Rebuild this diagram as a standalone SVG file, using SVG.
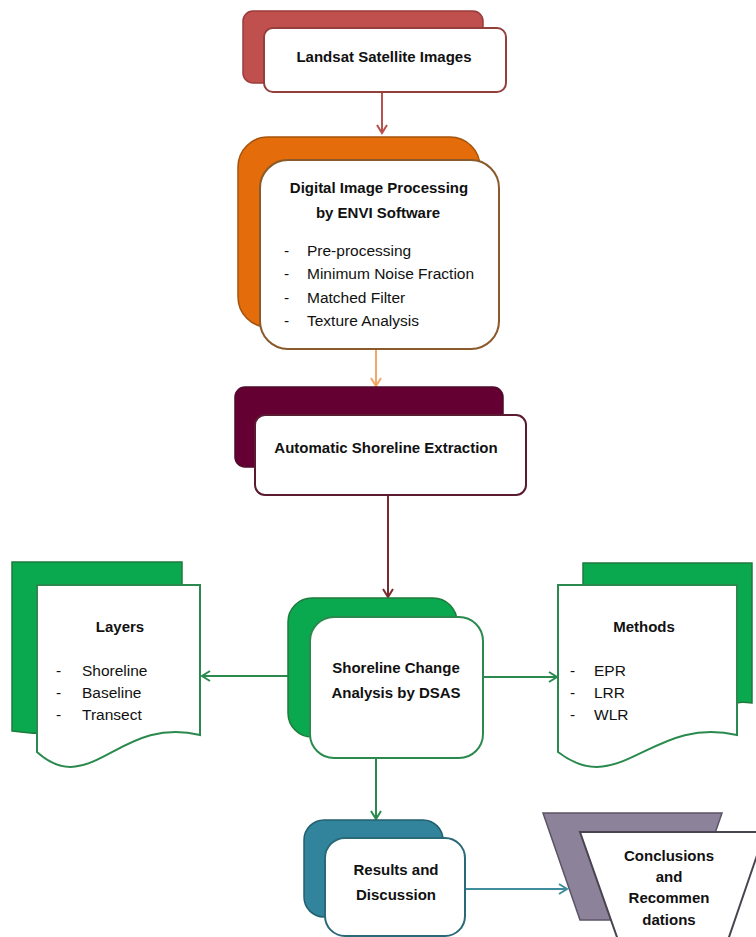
<svg xmlns="http://www.w3.org/2000/svg" width="756" height="937" viewBox="0 0 756 937">
<defs>
<style>
.t{font-family:"Liberation Sans",Arial,sans-serif;fill:#111;}
.b{font-weight:bold;font-size:15px;text-anchor:middle;}
.r{font-size:15.5px;}
.front{fill:#fff;stroke-width:2;}
.back{stroke-width:1.5;}
.ln{fill:none;stroke-width:2;}
</style>
<marker id="mRed" viewBox="0 0 12 12" refX="10" refY="6" markerWidth="12" markerHeight="12" markerUnits="userSpaceOnUse" orient="auto"><polyline points="2,1 10,6 2,11" fill="none" stroke="#b9504c" stroke-width="2"/></marker>
<marker id="mOr" viewBox="0 0 12 12" refX="10" refY="6" markerWidth="12" markerHeight="12" markerUnits="userSpaceOnUse" orient="auto"><polyline points="2,1 10,6 2,11" fill="none" stroke="#f2a766" stroke-width="2"/></marker>
<marker id="mMar" viewBox="0 0 12 12" refX="10" refY="6" markerWidth="12" markerHeight="12" markerUnits="userSpaceOnUse" orient="auto"><polyline points="2,1 10,6 2,11" fill="none" stroke="#7a2a2e" stroke-width="2"/></marker>
<marker id="mGr" viewBox="0 0 12 12" refX="10" refY="6" markerWidth="12" markerHeight="12" markerUnits="userSpaceOnUse" orient="auto"><polyline points="2,1 10,6 2,11" fill="none" stroke="#2a8a4e" stroke-width="2"/></marker>
<marker id="mTe" viewBox="0 0 12 12" refX="10" refY="6" markerWidth="12" markerHeight="12" markerUnits="userSpaceOnUse" orient="auto"><polyline points="2,1 10,6 2,11" fill="none" stroke="#3f8d9c" stroke-width="2"/></marker>
</defs>
<rect width="756" height="937" fill="#fff"/>

<g id="connectors">
<line class="ln" x1="382" y1="92" x2="382" y2="133" stroke="#b9504c" marker-end="url(#mRed)"/>
<line class="ln" x1="376" y1="349" x2="376" y2="386" stroke="#f2a766" marker-end="url(#mOr)"/>
<line class="ln" x1="388" y1="495" x2="388" y2="597" stroke="#7a2a2e" marker-end="url(#mMar)"/>
<line class="ln" x1="310" y1="676" x2="202" y2="676" stroke="#2a8a4e" marker-end="url(#mGr)"/>
<line class="ln" x1="483" y1="677" x2="557" y2="677" stroke="#2a8a4e" marker-end="url(#mGr)"/>
<line class="ln" x1="376" y1="758" x2="376" y2="819" stroke="#2a8a4e" marker-end="url(#mGr)"/>
<line class="ln" x1="465" y1="889" x2="567" y2="889" stroke="#3f8d9c" marker-end="url(#mTe)"/>
</g>

<g id="landsat">
<rect class="back" x="243" y="11" width="240" height="72" rx="10" fill="#c0504d" stroke="#9a3b39"/>
<rect class="front" x="264" y="28" width="242" height="64" rx="9" stroke="#93403d"/>
<text class="t b" x="384" y="62">Landsat  Satellite Images</text>
</g>

<g id="dip">
<rect class="back" x="238" y="137" width="242" height="190" rx="30" fill="#e46c0a" stroke="#a5530c"/>
<rect class="front" x="260" y="160" width="239" height="189" rx="28" stroke="#8a5a2a"/>
<text class="t b" x="379" y="193">Digital Image Processing</text>
<text class="t b" x="378" y="218">by ENVI Software</text>
<g class="t r">
<text x="284" y="256">-</text><text x="307" y="256">Pre-processing</text>
<text x="284" y="279">-</text><text x="307" y="279">Minimum Noise Fraction</text>
<text x="284" y="303">-</text><text x="307" y="303">Matched Filter</text>
<text x="284" y="326">-</text><text x="307" y="326">Texture Analysis</text>
</g>
</g>

<g id="ase">
<rect class="back" x="235" y="387" width="268" height="80" rx="10" fill="#640032" stroke="#4e0a28"/>
<rect class="front" x="255" y="415" width="271" height="80" rx="10" stroke="#5a1a32"/>
<text class="t b" x="386" y="453">Automatic Shoreline Extraction</text>
</g>

<g id="layers">
<path class="back" d="M12,562 H182 V712 C160,708 130,720 100,728 C70,735 40,735 12,731 Z" fill="#0aa84f" stroke="#1e7b3c"/>
<path class="front" d="M37,585 H200 V735 C120,715 90,800 37,752 Z" stroke="#2a8a4e"/>
<text class="t b" x="120" y="632">Layers</text>
<g class="t r">
<text x="56" y="676">-</text><text x="82" y="676">Shoreline</text>
<text x="56" y="698">-</text><text x="82" y="698">Baseline</text>
<text x="56" y="720">-</text><text x="82" y="720">Transect</text>
</g>
</g>

<g id="dsas">
<rect class="back" x="288" y="598" width="169" height="139" rx="24" fill="#0aa84f" stroke="#1e7b3c"/>
<rect class="front" x="310" y="617" width="173" height="141" rx="24" stroke="#2a8a4e"/>
<text class="t b" x="396" y="673">Shoreline Change</text>
<text class="t b" x="396" y="698">Analysis by DSAS</text>
</g>

<g id="methods">
<path class="back" d="M583,563 H752 V703 C745,702 740,702 737,703 V600 H583 Z" fill="#0aa84f" stroke="#1e7b3c"/>
<path class="front" d="M558,585 H737 V735 C652,715 620,800 558,752 Z" stroke="#2a8a4e"/>
<text class="t b" x="644" y="632">Methods</text>
<g class="t r">
<text x="570" y="676">-</text><text x="594" y="676">EPR</text>
<text x="570" y="698">-</text><text x="594" y="698">LRR</text>
<text x="570" y="720">-</text><text x="594" y="720">WLR</text>
</g>
</g>

<g id="results">
<rect class="back" x="304" y="820" width="139" height="97" rx="20" fill="#31849b" stroke="#225f6e"/>
<rect class="front" x="325" y="838" width="140" height="98" rx="20" stroke="#2a6a78"/>
<text class="t b" x="396" y="875">Results and</text>
<text class="t b" x="396" y="900">Discussion</text>
</g>

<g id="conclusions">
<polygon class="back" points="543,813 722,813 685,920 580,920" fill="#8c8299" stroke="#5c5466"/>
<polygon class="front" points="580,832 765,832 728,940 618,940" stroke="#4a4450"/>
<text class="t b" x="669" y="861">Conclusions</text>
<text class="t b" x="669" y="882">and</text>
<text class="t b" x="669" y="903">Recommen</text>
<text class="t b" x="669" y="925">dations</text>
</g>
</svg>
